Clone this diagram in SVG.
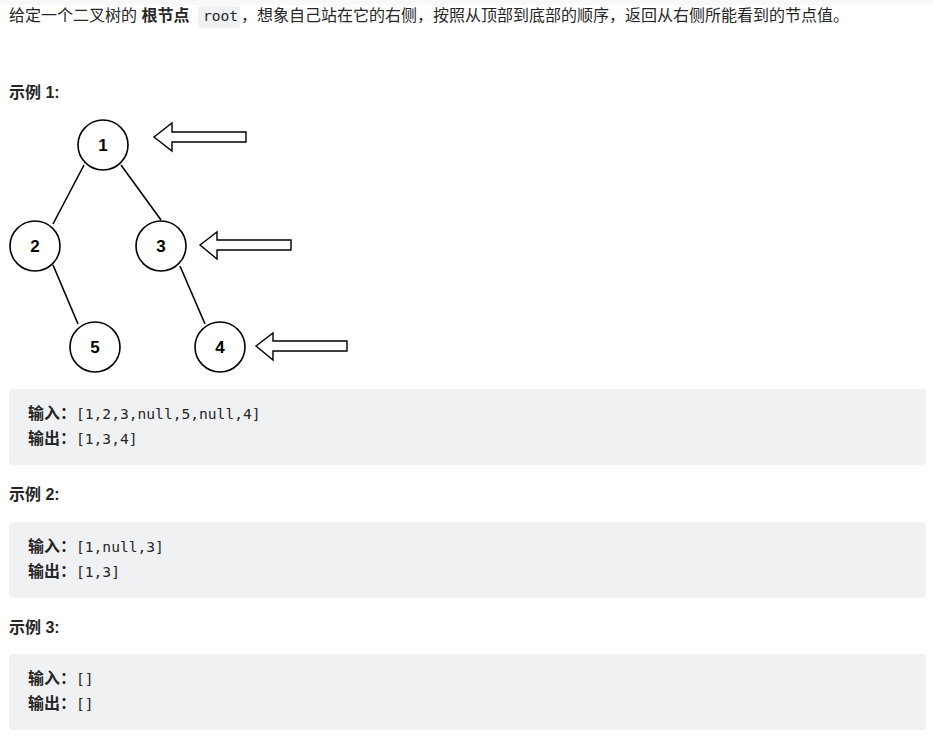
<svg xmlns="http://www.w3.org/2000/svg" width="933" height="737" viewBox="0 0 933 737">
<style>
.t{font-family:"Liberation Sans","Noto Sans CJK SC",sans-serif;font-size:16px;fill:#262626}
.b{font-weight:bold}
.m{font-family:"DejaVu Sans Mono","Liberation Mono","Noto Sans CJK SC",monospace;font-size:14.6px;fill:#262626}
.box{fill:#f0f1f3}
.n circle{fill:#fff;stroke:#000;stroke-width:1.6}
.n text{font-family:"Liberation Sans",sans-serif;font-weight:bold;font-size:17px;text-anchor:middle}
.e line{stroke:#000;stroke-width:1.6}
.arr{fill:#fff;stroke:#000;stroke-width:1.4}
</style>
<rect width="933" height="737" fill="#fff"/>
<rect x="0" y="0" width="933" height="5" fill="#f7f8fa"/>
<rect x="198" y="6" width="42" height="22" rx="3" class="box"/>
<text x="9" y="21" class="t">给定一个二叉树的 <tspan class="b">根节点</tspan></text>
<text x="203" y="21" class="m" font-size="12" fill="#666">root</text>
<text x="241" y="21" class="t">，想象自己站在它的右侧，按照从顶部到底部的顺序，返回从右侧所能看到的节点值。</text>
<text x="9" y="98" class="t b">示例 1:</text>
<g class="e">
<line x1="84" y1="165" x2="53" y2="224"/>
<line x1="121" y1="165" x2="161" y2="220"/>
<line x1="53" y1="265" x2="78" y2="324"/>
<line x1="180" y1="266" x2="205" y2="324"/>
</g>
<g id="n1" class="n"><circle cx="103" cy="145" r="25"/><text x="103" y="151">1</text></g>
<g id="n2" class="n"><circle cx="35" cy="246" r="25"/><text x="35" y="252">2</text></g>
<g id="n3" class="n"><circle cx="161" cy="246" r="25"/><text x="161" y="252">3</text></g>
<g id="n5" class="n"><circle cx="95" cy="347" r="25"/><text x="95" y="353">5</text></g>
<g id="n4" class="n"><circle cx="220" cy="347" r="25"/><text x="220" y="353">4</text></g>
<polygon class="arr" points="154,137 172,123 172,132 246,132 246,142 172,142 172,151"/>
<polygon class="arr" points="200,245 217,232 217,240 291,240 291,250 217,250 217,259"/>
<polygon class="arr" points="256,346 273,333 273,341 347,341 347,351 273,351 273,360"/>
<rect x="9" y="389" width="917" height="76" rx="4" class="box"/>
<text x="28" y="419" class="t b">输入：<tspan class="m" font-weight="normal">[1,2,3,null,5,null,4]</tspan></text>
<text x="28" y="444" class="t b">输出：<tspan class="m" font-weight="normal">[1,3,4]</tspan></text>
<text x="9" y="500" class="t b">示例 2:</text>
<rect x="9" y="522" width="917" height="76" rx="4" class="box"/>
<text x="28" y="552" class="t b">输入：<tspan class="m" font-weight="normal">[1,null,3]</tspan></text>
<text x="28" y="577" class="t b">输出：<tspan class="m" font-weight="normal">[1,3]</tspan></text>
<text x="9" y="633" class="t b">示例 3:</text>
<rect x="9" y="654" width="917" height="76" rx="4" class="box"/>
<text x="28" y="684" class="t b">输入：<tspan class="m" font-weight="normal">[]</tspan></text>
<text x="28" y="709" class="t b">输出：<tspan class="m" font-weight="normal">[]</tspan></text>
</svg>
